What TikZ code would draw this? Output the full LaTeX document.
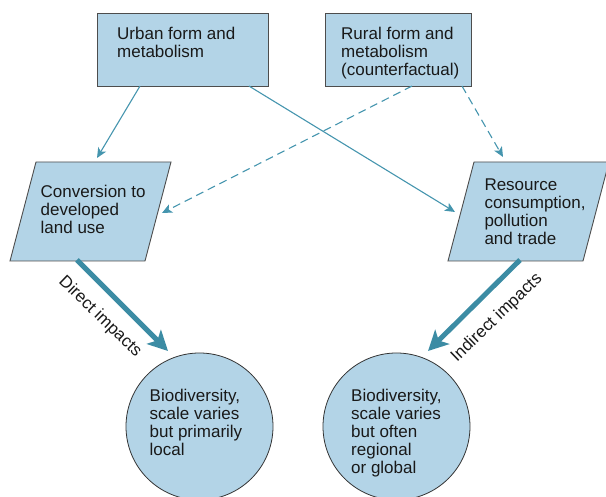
\documentclass[tikz,border=0pt]{standalone}
\usepackage{fontspec}
\setmainfont{Liberation Sans}
\usetikzlibrary{arrows.meta}
\definecolor{boxfill}{HTML}{B3D4E7}
\definecolor{boxline}{HTML}{4D4D4D}
\definecolor{thinteal}{HTML}{4595AE}
\definecolor{thickteal}{HTML}{3C8CA4}
\tikzset{
  rectbox/.style={draw=boxline, fill=boxfill, line width=0.9pt, inner sep=0pt, outer sep=0pt},
  parabox/.style={draw=boxline, fill=boxfill, line width=0.9pt},
  circbox/.style={circle, draw=black!80, fill=boxfill, line width=0.8pt, minimum size=147pt, inner sep=0pt},
  txt/.style={font=\fontsize{17}{18.2}\selectfont, align=left, inner sep=0pt, anchor=north west, text=black!90},
  lbl/.style={font=\fontsize{17}{18.2}\selectfont, inner sep=0pt, text=black!90},
  thinarrow/.style={draw=thinteal, line width=1.1pt, -{Stealth[length=10pt,width=9pt,inset=2.5pt]}},
  dasharrow/.style={thinarrow, dash pattern=on 8pt off 5pt},
  bigarrow/.style={draw=thickteal, line width=5pt, -{Stealth[length=20pt,width=20pt,inset=5pt]}}
}
\begin{document}
\begin{tikzpicture}[x=1pt,y=-1pt]
\useasboundingbox (0,0) rectangle (606,497);

% top boxes
\node[rectbox, minimum width=171pt, minimum height=72.7pt] (urban) at (182.8,49.7) {};
\node[rectbox, minimum width=146pt, minimum height=72.7pt] (rural) at (398,49.7) {};
\node[txt] (urbant) at (117,26.8) {Urban form and\\metabolism};
\node[txt] (ruralt) at (341,26.8) {Rural form and\\metabolism\\(counterfactual)};

% parallelograms
\draw[parabox] (36,162) -- (171,162) -- (145,261) -- (10,261) -- cycle;
\draw[parabox] (474,162) -- (609,162) -- (583,261) -- (448,261) -- cycle;
\node[txt] (convt) at (40.5,184.5) {Conversion to\\developed\\land use};
\node[txt] (rest) at (484.3,178.5) {Resource\\consumption,\\pollution\\and trade};

% circles
\node[circbox] (bio1) at (199.5,426.5) {};
\node[circbox] (bio2) at (396.5,426.5) {};
\node[txt] (bio1t) at (149.5,388.5) {Biodiversity,\\scale varies\\but primarily\\local};
\node[txt] (bio2t) at (351,388.5) {Biodiversity,\\scale varies\\but often\\regional\\or global};

% connector end coordinates
\coordinate (convtop) at (97,158);
\coordinate (convright) at (162,213);
\coordinate (restop) at (503,157);
\coordinate (resleft) at (455,212);
\coordinate (dstart) at (77,260);
\coordinate (dtip) at (168,351);
\coordinate (istart) at (520,260);
\coordinate (itip) at (428,351);

% thin connectors
\draw[thinarrow] ([xshift=42.7pt]urban.south west) -- (convtop);
\draw[thinarrow] ([xshift=151.7pt]urban.south west) -- (resleft);
\draw[dasharrow] ([xshift=87pt]rural.south west) -- (convright);
\draw[dasharrow] ([xshift=137pt]rural.south west) -- (restop);

% thick impact arrows
\draw[bigarrow] (dstart) -- (dtip);
\draw[bigarrow] (istart) -- (itip);
\node[lbl, rotate=-44] (dlbl) at (100,317) {Direct impacts};
\node[lbl, rotate=44] (ilbl) at (497,318) {Indirect impacts};
\end{tikzpicture}
\end{document}
